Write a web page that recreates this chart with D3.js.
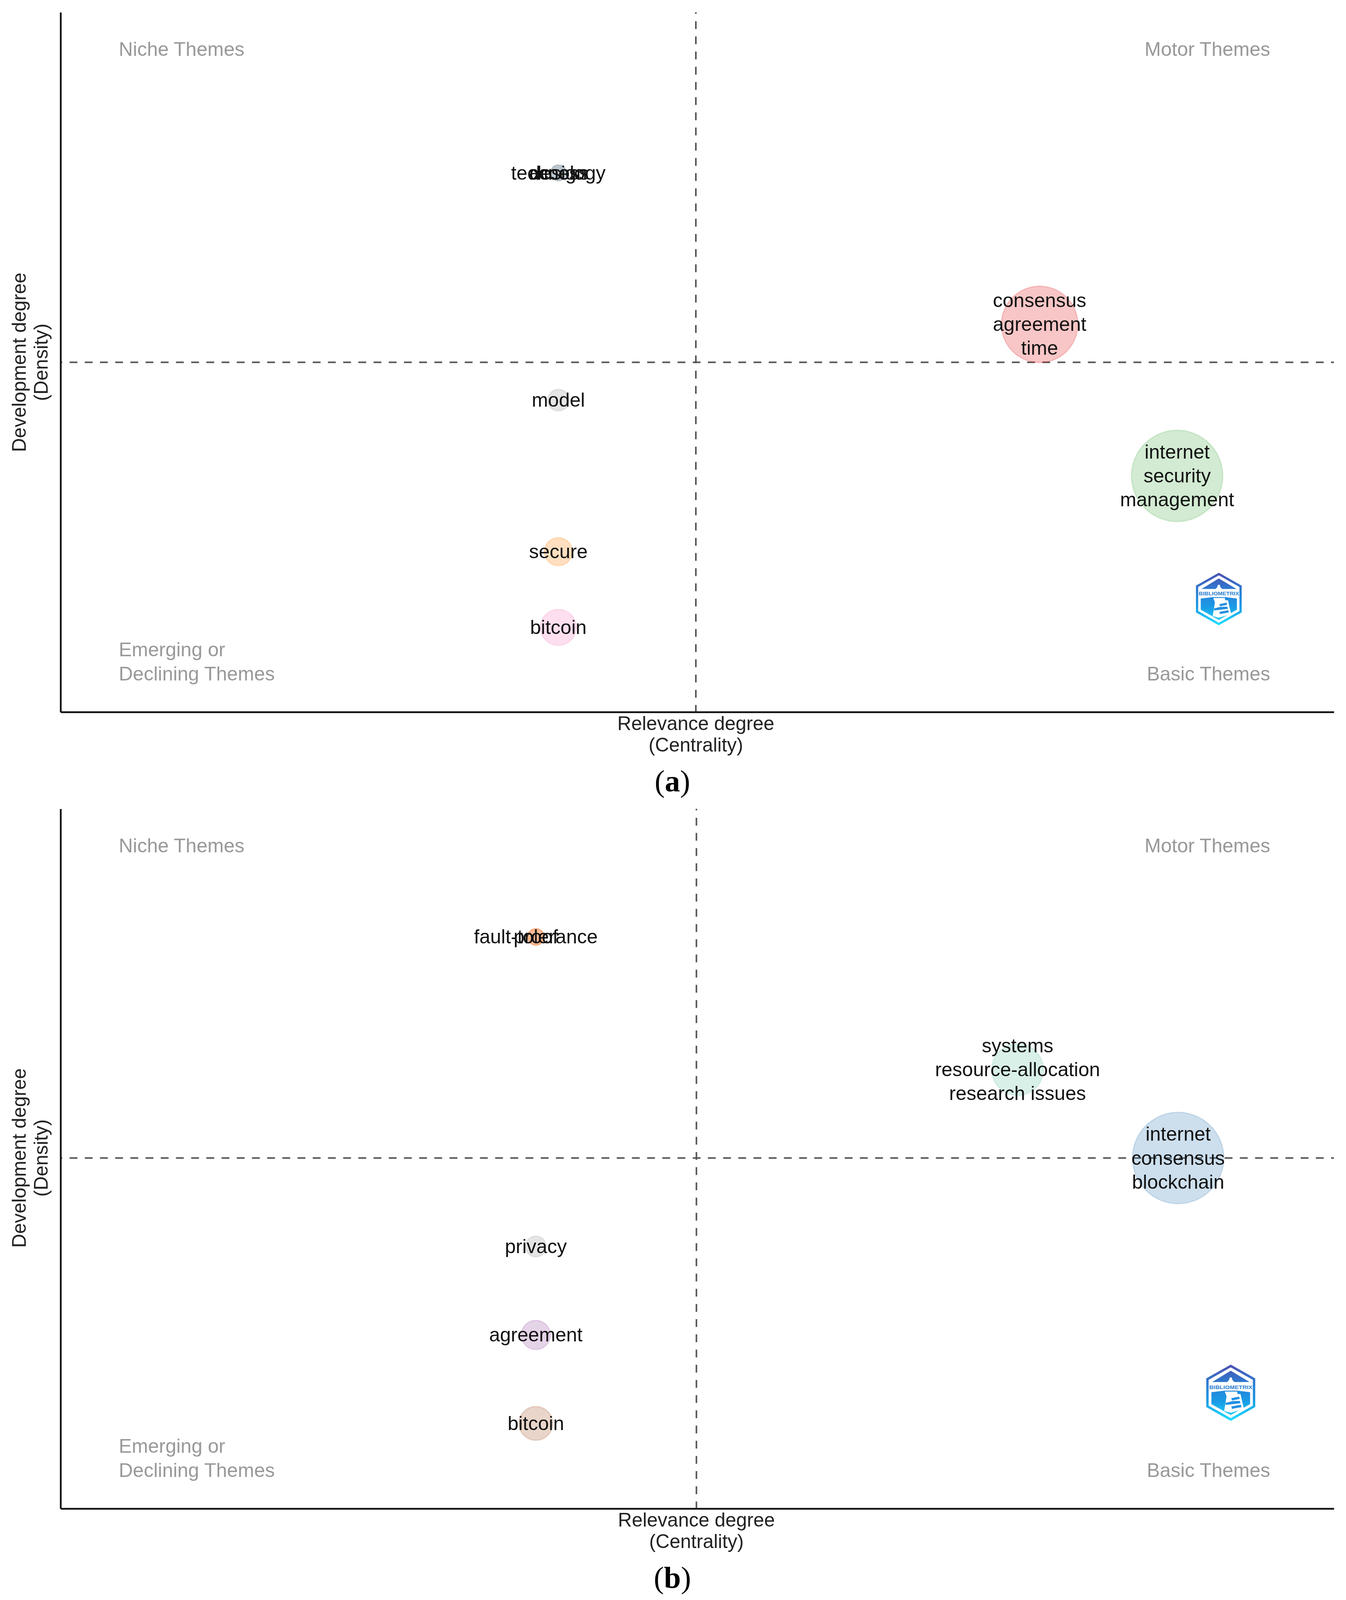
<!DOCTYPE html>
<html lang="en">
<head>
<meta charset="utf-8">
<meta name="viewport" content="width=3445">
<title>Thematic maps</title>
<script src="https://cdn.jsdelivr.net/npm/d3@7"></script>
<style>
  html, body { margin: 0; padding: 0; background: #fff; overflow: hidden; }
  text { font-family: "Liberation Sans", Arial, sans-serif; }
</style>
</head>
<body>
<div id="bod"></div>
<script>
// panel (a): rank centrality / rank density of each cluster
const labelsA = [["consensus", "agreement", "time"], ["internet", "security", "management"], ["model"], ["secure"], ["bitcoin"], ["technology"], ["design"], ["access"]];
const centralityA = [7, 8, 3.5, 3.5, 3.5, 3.5, 3.5, 3.5];
const densityA = [5, 3, 4, 2, 1, 7, 7, 7];
const occurrencesA = [70, 100, 5.6, 9.4, 15.5, 3, 3, 3];
const colorsA = ["#E41A1C", "#4DAF4A", "#999999", "#FF7F00", "#F781BF", "#377EB8", "#999999", "#B3B3B3"];

// panel (b)
const labelsB = [["systems", "resource-allocation", "research issues"], ["internet", "consensus", "blockchain"], ["privacy"], ["agreement"], ["bitcoin"], ["fault-tolerance"], ["proof"]];
const centralityB = [6, 7, 3, 3, 3, 3, 3];
const densityB = [5, 4, 3, 2, 1, 6.5, 6.5];
const occurrencesB = [32, 100, 5.2, 10.2, 13.7, 3.3, 3.3];
const colorsB = ["#66C2A5", "#377EB8", "#999999", "#984EA3", "#A65628", "#FF7F00", "#F4511E"];

const quadrantNames = ["Niche Themes", "Motor Themes", "Emerging or", "Declining Themes", "Basic Themes"];

const w = 3445, h = 4829;
const left = 155, right = 3414;
const lineGap = 72;

// the window can come out shorter than the page (it was 4096 here), so
// vertical positions are fitted to it and nothing falls off the bottom
const sy = Math.min(1, window.innerHeight / h);
const rs = Math.sqrt(sy);

const svg = d3.select("#bod").append("svg")
    .attr("width", w)
    .attr("height", h * sy)
    .style("display", "block");

// gradient for the logo, both logos share it
const grad = svg.append("defs").append("linearGradient")
    .attr("id", "logoGrad")
    .attr("gradientUnits", "userSpaceOnUse")
    .attr("x1", 0).attr("x2", 0).attr("y1", 75).attr("y2", 545);
[[0, "#4b50b0"], [0.35, "#2b7fd4"], [0.65, "#1a9ae6"], [1, "#1fe0ff"]].forEach(function(s) {
  grad.append("stop").attr("offset", s[0]).attr("stop-color", s[1]);
});

function drawLogo(g, cx, cy, s) {
  s = s * rs;
  let logo = g.append("g").attr("transform", "translate(" + (cx - 330 * s) + "," + (cy * sy - 310 * s) + ") scale(" + s + ")");
  logo.append("path").attr("d", "M330 86L525 196V424L330 534L135 424V196Z")
      .attr("fill", "none").attr("stroke", "url(#logoGrad)").attr("stroke-width", 20);
  logo.append("path").attr("d", "M330 125L488 220H175Z").attr("fill", "url(#logoGrad)");
  logo.append("path").attr("d", "M168 305L280 292H385L492 305V405L330 497L168 405Z").attr("fill", "url(#logoGrad)");
  // lighthouse
  logo.append("path")
      .attr("d", "M322 182H338L345 205L362 222V238H298V222L315 205Z M280 300H385V320L412 322L440 445L330 478L275 462L295 340Z")
      .attr("fill", "#fff");
  logo.selectAll("path.stripe")
    .data(["M335 355L400 342L405 362L340 375Z", "M285 395L345 380L405 378L412 398L288 412Z", "M335 425L415 410L420 430L340 445Z"])
    .join("path")
      .attr("class", "stripe")
      .attr("d", d => d)
      .attr("fill", "#2390e2");
  logo.append("text")
      .attr("x", 150).attr("y", 278)
      .attr("textLength", 362)
      .attr("lengthAdjust", "spacingAndGlyphs")
      .attr("font-size", 44)
      .attr("font-weight", "bold")
      .attr("fill", "#2a7ed0")
      .text("BIBLIOMETRIX");
}

function drawPanel(opt) {
  let g = svg.append("g");
  let top = opt.top * sy, bottom = opt.bottom * sy;
  let x = d3.scaleLinear().domain(opt.xDomain).range([left, right]);
  let y = d3.scaleLinear().domain(opt.yDomain).range([bottom, top]);
  // r = sqrt(occurrences), biggest theme is 127px in both panels
  let r = d3.scaleSqrt().domain([0, 100]).range([0, 127 * rs]);

  // reference lines under the bubbles
  g.append("line")
      .attr("x1", left).attr("x2", right)
      .attr("y1", y(opt.yMid)).attr("y2", y(opt.yMid))
      .attr("stroke", "#555").attr("stroke-width", 4)
      .attr("stroke-dasharray", "20 18.9").attr("stroke-dashoffset", 15.8);
  g.append("line")
      .attr("x1", x(opt.xMid)).attr("x2", x(opt.xMid))
      .attr("y1", bottom).attr("y2", top)
      .attr("stroke", "#555").attr("stroke-width", 4)
      .attr("stroke-dasharray", "20 18.9").attr("stroke-dashoffset", 2);

  g.append("g")
      .attr("transform", "translate(0," + bottom + ")")
      .call(d3.axisBottom(x).tickValues([]).tickSize(0))
      .select("path").attr("stroke", "#111").attr("stroke-width", 4.5);
  g.append("g")
      .attr("transform", "translate(" + left + ",0)")
      .call(d3.axisLeft(y).tickValues([]).tickSize(0))
      .select("path").attr("stroke", "#111").attr("stroke-width", 4.5);

  let idx = d3.range(opt.labels.length);

  g.selectAll("circle.theme")
    .data(idx)
    .join("circle")
      .attr("class", "theme")
      .attr("cx", i => x(opt.centrality[i]))
      .attr("cy", i => y(opt.density[i]))
      .attr("r", i => r(opt.size[i]))
      .attr("fill", i => opt.colors[i])
      .attr("fill-opacity", 0.25)
      .attr("stroke", i => opt.colors[i])
      .attr("stroke-opacity", 0.2)
      .attr("stroke-width", 3);

  idx.forEach(function(i) {
    let n = opt.labels[i].length;
    opt.labels[i].forEach(function(word, k) {
      g.append("text")
          .attr("x", x(opt.centrality[i]))
          .attr("y", y(opt.density[i]) + 17 + (k - (n - 1) / 2) * lineGap * sy)
          .attr("text-anchor", "middle")
          .attr("font-size", 50)
          .attr("fill", "#111")
          .text(word);
    });
  });

  // quadrant names
  let quad = g.append("g").attr("font-size", 50).attr("fill", "#999");
  quad.append("text").attr("x", 304).attr("y", top + 132 * sy).text(quadrantNames[0]);
  quad.append("text").attr("x", 3251).attr("y", top + 132 * sy).attr("text-anchor", "end").text(quadrantNames[1]);
  quad.append("text").attr("x", 304).attr("y", bottom - 168 * sy).text(quadrantNames[2]);
  quad.append("text").attr("x", 304).attr("y", bottom - 95 * sy).text(quadrantNames[3]);
  quad.append("text").attr("x", 3251).attr("y", bottom - 95 * sy).attr("text-anchor", "end").text(quadrantNames[4]);

  // axis titles, kept 55px apart so the two lines stay clear of each other
  let xt = g.append("g").attr("font-size", 49.5).attr("fill", "#222").attr("text-anchor", "middle");
  xt.append("text").attr("x", x(opt.xMid)).attr("y", bottom + 46).text("Relevance degree");
  xt.append("text").attr("x", x(opt.xMid)).attr("y", bottom + 101).text("(Centrality)");
  let yt = g.append("g").attr("font-size", 49.5).attr("fill", "#222").attr("text-anchor", "middle");
  yt.append("text").attr("transform", "translate(66," + y(opt.yMid) + ") rotate(-90)").text("Development degree");
  yt.append("text").attr("transform", "translate(122," + y(opt.yMid) + ") rotate(-90)").text("(Density)");

  // sub caption
  let cap = g.append("text")
      .attr("x", 1721).attr("y", bottom + 239 * sy)
      .attr("text-anchor", "middle")
      .attr("font-size", 78)
      .attr("fill", "#000")
      .style("font-family", "'Liberation Serif', serif");
  cap.append("tspan").text("(");
  cap.append("tspan").attr("font-weight", "bold").text(opt.tag);
  cap.append("tspan").text(")");

  drawLogo(g, opt.logo[0], opt.logo[1], opt.logo[2]);
}

drawPanel({
  labels: labelsA, centrality: centralityA, density: densityA, size: occurrencesA, colors: colorsA,
  xDomain: [-0.12, 9.14], yDomain: [-0.117, 9.12], xMid: 4.5, yMid: 4.5,
  top: 37, bottom: 2149, tag: "a", logo: [3119.5, 1808, 0.31]
});
drawPanel({
  labels: labelsB, centrality: centralityB, density: densityB, size: occurrencesB, colors: colorsB,
  xDomain: [0.04, 7.97], yDomain: [0.0375, 7.948], xMid: 4, yMid: 4,
  top: 2441, bottom: 4553, tag: "b", logo: [3150, 4203.5, 0.332]
});
</script>
</body>
</html>
